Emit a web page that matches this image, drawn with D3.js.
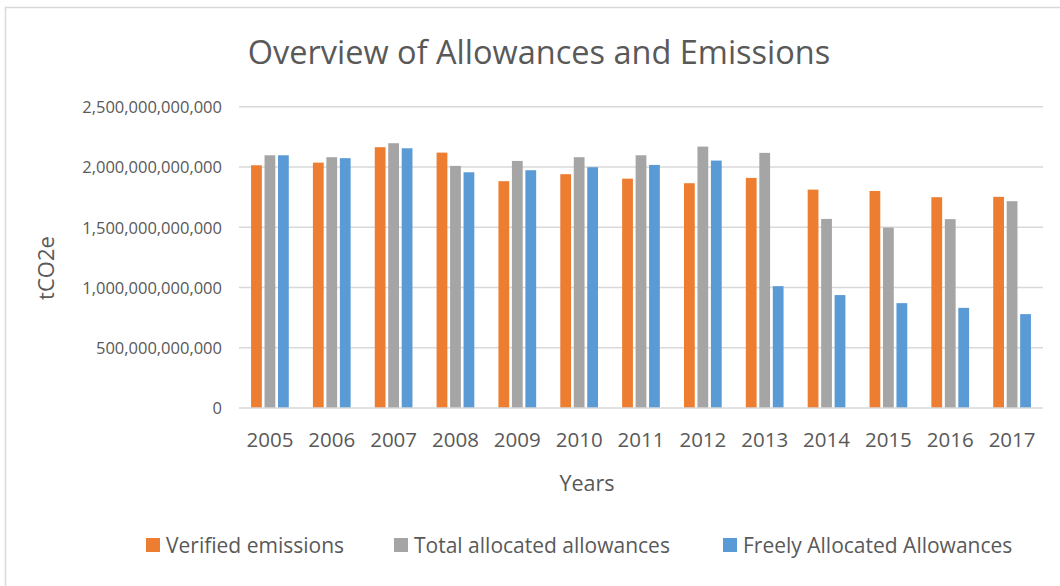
<!DOCTYPE html>
<html>
<head>
<meta charset="utf-8">
<script src="https://cdn.jsdelivr.net/npm/d3@7"></script>
<style>
  html, body { margin: 0; padding: 0; background: #fff; }
  svg { display: block; font-family: "Open Sans", "Noto Sans", sans-serif; }
</style>
</head>
<body>
<svg id="chart" width="1060" height="586"></svg>
<script>
// Years on the category axis
const years = ["2005","2006","2007","2008","2009","2010","2011","2012","2013","2014","2015","2016","2017"];

// Series values in tCO2e
const verifiedEmissions = [2014e9, 2036e9, 2164e9, 2119e9, 1882e9, 1940e9, 1903e9, 1865e9, 1909e9, 1812e9, 1801e9, 1749e9, 1752e9];
const totalAllocated    = [2097e9, 2081e9, 2197e9, 2009e9, 2050e9, 2081e9, 2097e9, 2169e9, 2117e9, 1569e9, 1497e9, 1567e9, 1716e9];
const freelyAllocated   = [2097e9, 2073e9, 2155e9, 1956e9, 1973e9, 1998e9, 2017e9, 2053e9, 1011e9,  937e9,  870e9,  831e9,  779e9];

const seriesNames = ["Verified emissions", "Total allocated allowances", "Freely Allocated Allowances"];
const seriesColors = ["#ED7D31", "#A5A5A5", "#5B9BD5"];
const yTicks = [0, 500e9, 1000e9, 1500e9, 2000e9, 2500e9];

const seriesValues = [verifiedEmissions, totalAllocated, freelyAllocated];
const rows = years.map((y, i) => ({ year: y, values: seriesValues.map(s => s[i]) }));

const svg = d3.select("#chart");
const textColor = "#595959";

// chart frame
svg.append("rect")
  .attr("x", 5.5).attr("y", 7.5)
  .attr("width", 1070).attr("height", 600)
  .attr("fill", "#fff").attr("stroke", "#d9d9d9").attr("stroke-width", 1.5);

const plot = { left: 239, right: 1043, top: 106.7, bottom: 408 };

const x0 = d3.scaleBand().domain(years).range([plot.left, plot.right]).padding(0);
const x1 = d3.scaleBand().domain(d3.range(3))
  .range([x0.bandwidth() * 0.195, x0.bandwidth() * 0.805]).paddingInner(0.2);
const y = d3.scaleLinear().domain([0, 2500e9]).range([plot.bottom, plot.top]);

// gridlines
svg.append("g")
  .selectAll("line").data(yTicks.slice(1)).join("line")
  .attr("x1", plot.left).attr("x2", plot.right)
  .attr("y1", d => y(d)).attr("y2", d => y(d))
  .attr("stroke", "#d9d9d9").attr("stroke-width", 1.5);

// bars
const groups = svg.append("g").selectAll("g").data(rows).join("g")
  .attr("transform", d => `translate(${x0(d.year)},0)`);
groups.selectAll("rect").data(d => d.values.map((v, k) => ({ k, v }))).join("rect")
  .attr("x", d => x1(d.k))
  .attr("width", x1.bandwidth())
  .attr("y", d => y(d.v))
  .attr("height", d => y(0) - y(d.v))
  .attr("fill", d => seriesColors[d.k]);

// category axis line
svg.append("line")
  .attr("x1", plot.left).attr("x2", plot.right)
  .attr("y1", y(0)).attr("y2", y(0))
  .attr("stroke", "#d9d9d9").attr("stroke-width", 1.5);

// y axis labels
const yAxis = d3.axisLeft(y).tickValues(yTicks).tickFormat(d3.format(",.0f")).tickSize(0).tickPadding(0);
const yg = svg.append("g").attr("transform", `translate(${plot.left - 17},0)`).call(yAxis);
yg.select(".domain").remove();
yg.selectAll("text").attr("fill", textColor).attr("font-size", 16.5)
  .attr("font-family", "'Open Sans', sans-serif").attr("dy", "0.36em");

// x axis labels
const xAxis = d3.axisBottom(x0).tickSize(0).tickPadding(0);
const xg = svg.append("g").attr("transform", `translate(0,${plot.bottom})`).call(xAxis);
xg.select(".domain").remove();
xg.selectAll("text").attr("fill", textColor).attr("font-size", 20.5)
  .attr("font-family", "'Open Sans', sans-serif").attr("dy", null).attr("y", 39);

// title
svg.append("text")
  .attr("x", 539).attr("y", 64)
  .attr("text-anchor", "middle")
  .attr("fill", textColor).attr("font-size", 32.5)
  .text("Overview of Allowances and Emissions");

// axis titles
svg.append("text")
  .attr("x", 587).attr("y", 491)
  .attr("text-anchor", "middle")
  .attr("fill", textColor).attr("font-size", 21.5)
  .text("Years");

svg.append("text")
  .attr("transform", "translate(54,268) rotate(-90)")
  .attr("text-anchor", "middle")
  .attr("fill", textColor).attr("font-size", 22)
  .text("tCO2e");

// legend
const legendX = [146, 394, 723];
const legend = svg.append("g").selectAll("g").data(seriesNames).join("g")
  .attr("transform", (d, i) => `translate(${legendX[i]},538)`);
legend.append("rect").attr("width", 14).attr("height", 14)
  .attr("fill", (d, i) => seriesColors[i]);
legend.append("text").attr("x", 20).attr("y", 15)
  .attr("fill", textColor).attr("font-size", 21)
  .text(d => d);
</script>
</body>
</html>
